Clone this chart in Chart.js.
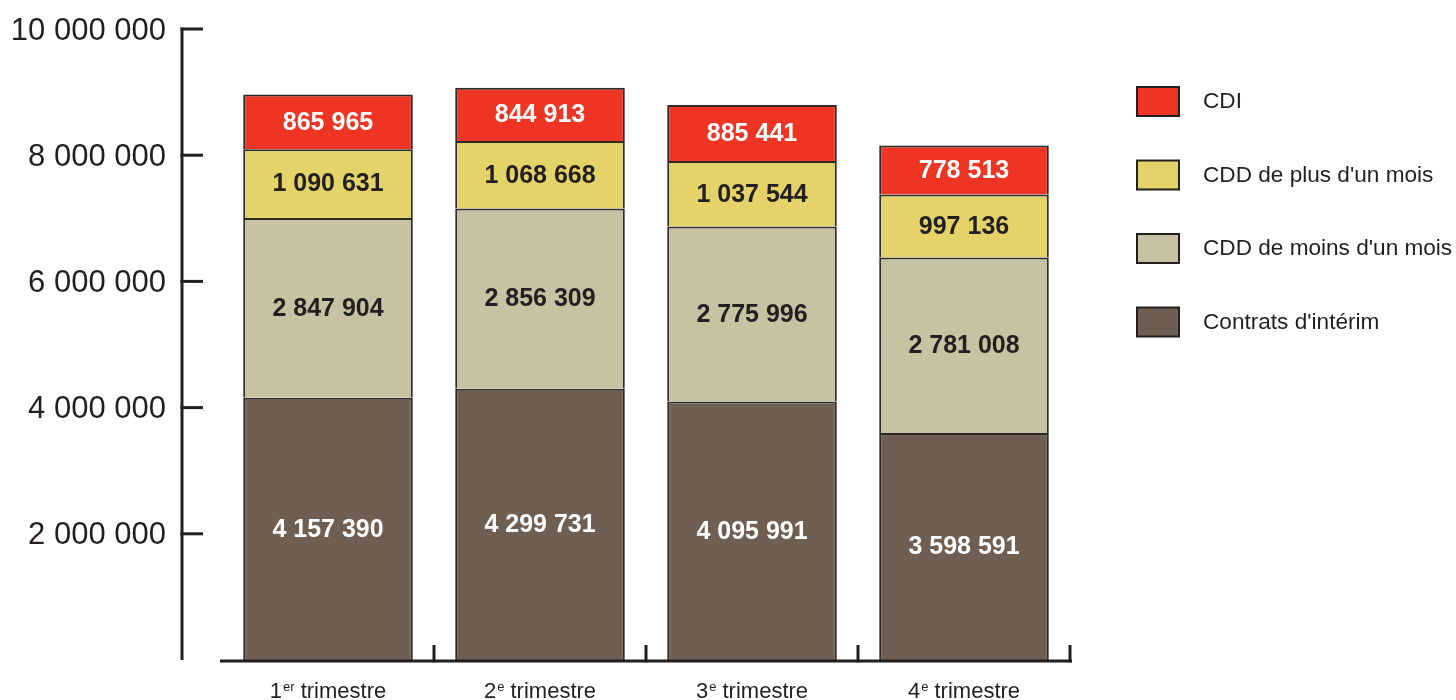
<!DOCTYPE html>
<html lang="fr">
<head>
  <meta charset="UTF-8" />
  <title>Embauches par type de contrat</title>
  <style>
    * { margin: 0; padding: 0; box-sizing: border-box; }
    body { background: #ffffff; width: 1456px; height: 700px; overflow: hidden; }
    canvas { display: block; }
  </style>
</head>
<body>
  <canvas id="chart" width="1456" height="700"></canvas>

  <script src="https://cdn.jsdelivr.net/npm/chart.js"></script>
  <script>
    // trimestres (chiffre + exposant)
    const quarterNums = ['1', '2', '3', '4'];
    const quarterSups = ['er', 'e', 'e', 'e'];
    const quarters = ['1er trimestre', '2e trimestre', '3e trimestre', '4e trimestre'];

    // séries, du bas vers le haut de la pile
    const interim = [4157390, 4299731, 4095991, 3598591];
    const cddMoins = [2847904, 2856309, 2775996, 2781008];
    const cddPlus = [1090631, 1068668, 1037544, 997136];
    const cdi = [865965, 844913, 885441, 778513];

    const yTicks = [2000000, 4000000, 6000000, 8000000, 10000000];

    const FONT = "'Liberation Sans', Arial, Helvetica, sans-serif";
    const INK = '#231f20';

    function fmt(n) {
      return String(n).replace(/\B(?=(\d{3})+(?!\d))/g, ' ');
    }

    const series = [
      { label: "Contrats d'intérim", data: interim, color: '#6f5e52', text: '#ffffff' },
      { label: "CDD de moins d'un mois", data: cddMoins, color: '#c6c2a2', text: INK },
      { label: "CDD de plus d'un mois", data: cddPlus, color: '#e4d369', text: INK },
      { label: 'CDI', data: cdi, color: '#ee3524', text: '#ffffff' }
    ];

    // axes dessinés à la main : axe Y décalé, axe X avec graduations vers le haut
    const axesPlugin = {
      id: 'axes',
      afterDraw(chart) {
        const ctx = chart.ctx;
        const x = chart.scales.x, y = chart.scales.y;
        const area = chart.chartArea;
        ctx.save();
        ctx.strokeStyle = INK;
        ctx.lineWidth = 3;
        ctx.lineCap = 'butt';

        // axe Y
        const ax = area.left - 40;
        ctx.beginPath();
        ctx.moveTo(ax, y.getPixelForValue(0));
        ctx.lineTo(ax, y.getPixelForValue(10000000) - 1.5);
        ctx.stroke();
        ctx.fillStyle = INK;
        ctx.font = '31px ' + FONT;
        ctx.textAlign = 'right';
        ctx.textBaseline = 'middle';
        yTicks.forEach(v => {
          const py = y.getPixelForValue(v);
          ctx.beginPath();
          ctx.moveTo(ax - 1.5, py);
          ctx.lineTo(ax + 21, py);
          ctx.stroke();
          ctx.fillText(fmt(v), ax - 16, py + 2);
        });

        // axe X
        const by = y.getPixelForValue(0) + 1;
        ctx.beginPath();
        ctx.moveTo(area.left - 2, by);
        ctx.lineTo(area.right + 2, by);
        ctx.stroke();
        const step = (area.right - area.left) / quarters.length;
        for (let i = 1; i <= quarters.length; i++) {
          const px = area.left + step * i;
          ctx.beginPath();
          ctx.moveTo(px, by + 1.5);
          ctx.lineTo(px, by - 16);
          ctx.stroke();
        }

        // libellés des trimestres avec exposant
        ctx.textBaseline = 'alphabetic';
        ctx.textAlign = 'left';
        quarters.forEach((q, i) => {
          const cx = x.getPixelForValue(i);
          const main = quarterNums[i];
          const rest = ' trimestre';
          ctx.font = '22px ' + FONT;
          const wMain = ctx.measureText(main).width;
          const wRest = ctx.measureText(rest).width;
          ctx.font = '13px ' + FONT;
          const wSup = ctx.measureText(quarterSups[i]).width + 1;
          let sx = cx - (wMain + wSup + wRest) / 2;
          const base = 698;
          ctx.font = '22px ' + FONT;
          ctx.fillText(main, sx, base);
          sx += wMain + 1;
          ctx.font = '13px ' + FONT;
          ctx.fillText(quarterSups[i], sx, base - 7);
          sx += wSup - 1;
          ctx.font = '22px ' + FONT;
          ctx.fillText(rest, sx, base);
        });
        ctx.restore();
      }
    };

    // valeurs au centre de chaque segment
    const valuesPlugin = {
      id: 'values',
      afterDatasetsDraw(chart) {
        const ctx = chart.ctx;
        ctx.save();
        ctx.font = 'bold 25px ' + FONT;
        ctx.textAlign = 'center';
        ctx.textBaseline = 'middle';
        chart.data.datasets.forEach((ds, di) => {
          const meta = chart.getDatasetMeta(di);
          meta.data.forEach((bar, i) => {
            ctx.fillStyle = series[di].text;
            ctx.fillText(fmt(ds.data[i]), bar.x, (bar.y + bar.base) / 2 + 1);
          });
        });
        ctx.restore();
      }
    };

    // légende à droite, CDI en haut
    const legendPlugin = {
      id: 'sideLegend',
      afterDraw(chart) {
        const ctx = chart.ctx;
        ctx.save();
        ctx.font = '22.6px ' + FONT;
        ctx.textBaseline = 'middle';
        ctx.textAlign = 'left';
        series.slice().reverse().forEach((s, i) => {
          const top = 87 + i * 73.5;
          ctx.fillStyle = s.color;
          ctx.fillRect(1137, top, 42, 29);
          ctx.strokeStyle = INK;
          ctx.lineWidth = 2;
          ctx.strokeRect(1137, top, 42, 29);
          ctx.fillStyle = INK;
          ctx.fillText(s.label, 1203, top + 15);
        });
        ctx.restore();
      }
    };

    new Chart(document.getElementById('chart').getContext('2d'), {
      type: 'bar',
      data: {
        labels: quarters,
        datasets: series.map(s => ({
          label: s.label,
          data: s.data,
          backgroundColor: s.color,
          borderColor: '#2e2a28',
          borderWidth: 2,
          barPercentage: 0.8,
          categoryPercentage: 1
        }))
      },
      options: {
        responsive: false,
        animation: false,
        devicePixelRatio: 1,
        layout: { padding: { top: 29, right: 386, bottom: 40, left: 222 } },
        plugins: {
          legend: { display: false },
          tooltip: { enabled: false }
        },
        scales: {
          x: { stacked: true, display: false },
          y: { stacked: true, display: false, min: 0, max: 10000000 }
        }
      },
      plugins: [axesPlugin, valuesPlugin, legendPlugin]
    });
  </script>
</body>
</html>
